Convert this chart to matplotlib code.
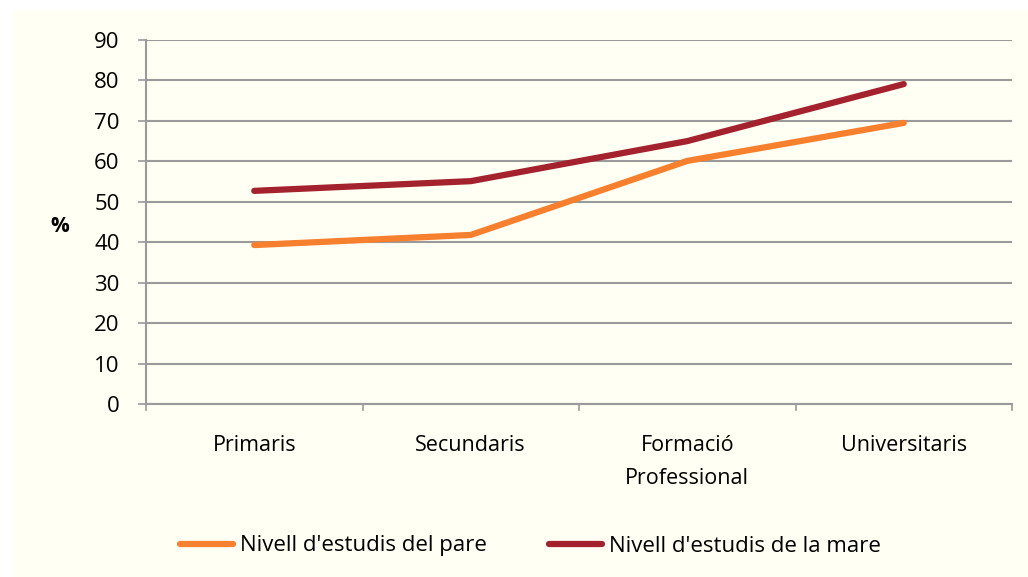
import matplotlib.pyplot as plt
import numpy as np

categories = ['Primaris', 'Secundaris', 'Formació\nProfessional', 'Universitaris']
pare = [39.3, 41.8, 60.1, 69.5]
mare = [52.7, 55.1, 65.0, 79.1]
yticks = [0, 10, 20, 30, 40, 50, 60, 70, 80, 90]

bg = '#FFFFF3'
grid_c = '#9A9A9A'

plt.rcParams['font.family'] = ['Open Sans', 'DejaVu Sans']

fig = plt.figure(figsize=(10.28, 5.77), dpi=100)
fig.patch.set_facecolor('white')
# cream chart area
fig.patches.append(plt.Rectangle((13/1028, 0), 1 - 13/1028, 1 - 10/577,
                                 transform=fig.transFigure, facecolor=bg,
                                 edgecolor='none', zorder=-1))

W, H = 1028, 577
ax = fig.add_axes([146/W, 1 - 404/H, (1012-146)/W, (404-40)/H])
ax.set_facecolor(bg)

x = np.arange(len(categories))
ax.plot(x, pare, color='#F7802F', lw=4.5, solid_capstyle='round', label="Nivell d'estudis del pare")
ax.plot(x, mare, color='#A3222D', lw=4.5, solid_capstyle='round', label="Nivell d'estudis de la mare")

ax.set_xlim(-0.5, len(categories) - 0.5)
ax.set_ylim(0, 90)
ax.set_yticks(yticks)
ax.set_yticklabels([str(v) for v in yticks], fontsize=16)
ax.yaxis.grid(True, color=grid_c, lw=1.5)
ax.set_axisbelow(True)
ax.tick_params(axis='y', length=6, color=grid_c, width=1.2, pad=13)

ax.set_xticks(x)
ax.set_xticklabels(categories, fontsize=15.5, linespacing=1.75)
ax.tick_params(axis='x', length=0, pad=22)
for xt in np.arange(-0.5, len(categories), 1.0):
    ax.plot([xt, xt], [0, -1.5], color=grid_c, lw=1.2, clip_on=False)

for s in ['top', 'right']:
    ax.spines[s].set_visible(False)
ax.spines['left'].set_color(grid_c)
ax.spines['bottom'].set_color(grid_c)
ax.spines['left'].set_linewidth(1.5)
ax.spines['bottom'].set_linewidth(1.5)

fig.text(60/W, 1 - 226/H, '%', fontsize=15, fontweight='bold', ha='center', va='center')

leg = fig.legend(loc='center', bbox_to_anchor=(530/W, 1 - 546/H), ncol=2,
                 frameon=False, fontsize=16, handlelength=2.4, handletextpad=0.3,
                 columnspacing=2.8)

fig.savefig('out.png', dpi=100, facecolor='white')
